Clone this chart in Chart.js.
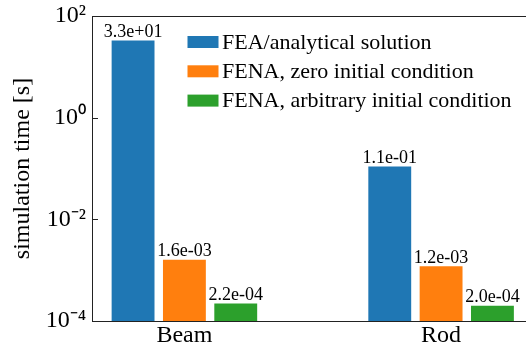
<!DOCTYPE html>
<html>
<head>
<meta charset="utf-8">
<script src="https://cdn.jsdelivr.net/npm/chart.js@4"></script>
<style>
  html, body { margin: 0; padding: 0; background: #fff; overflow: hidden; width: 526px; height: 349px; }
  #wrap { position: absolute; left: 0; top: 0; width: 540px; height: 349px; }
  #c { display: block; width: 540px; height: 349px; }
</style>
</head>
<body>
<div id="wrap"><canvas id="c" width="540" height="349"></canvas></div>
<script>
// Simulation time per model, in seconds
const categories = ['Beam', 'Rod'];
const seriesNames = ['FEA/analytical solution', 'FENA, zero initial condition', 'FENA, arbitrary initial condition'];
const feaTimes = [33, 0.11];
const fenaZeroTimes = [1.6e-3, 1.2e-3];
const fenaArbitraryTimes = [2.2e-4, 2.0e-4];
const yTickValues = [1e-4, 1e-2, 1, 1e2];
const yTickLabels = ['10⁻⁴', '10⁻²', '10⁰', '10²'];

const seriesColors = ['#1f77b4', '#ff7f0e', '#2ca02c'];
const FONT = "'Liberation Serif', 'Times New Roman', serif";
const SPINE = '#222';

// 3.3e+01 style: one decimal, two-digit exponent
function sci(v) {
  const [m, e] = v.toExponential(1).split('e');
  return m + 'e' + e[0] + e.slice(1).padStart(2, '0');
}

const seriesValues = [feaTimes, fenaZeroTimes, fenaArbitraryTimes];
const datasets = seriesValues.map((vals, s) => ({
  label: seriesNames[s],
  data: categories.map((c, i) => ({ x: i, y: vals[i] })),
  backgroundColor: seriesColors[s],
  borderWidth: 0
}));

// Frame, inward ticks, value annotations and the legend
const decorations = {
  id: 'decorations',
  afterDatasetsDraw(chart) {
    const { ctx, chartArea: a } = chart;
    const yScale = chart.scales.y;
    ctx.save();
    ctx.strokeStyle = SPINE;
    ctx.lineWidth = 1;
    ctx.beginPath();
    const top = Math.round(a.top) + 0.5;
    ctx.moveTo(a.left, top); ctx.lineTo(a.right, top);
    yScale.ticks.forEach(t => {
      const py = Math.round(yScale.getPixelForValue(t.value)) + 0.5;
      ctx.moveTo(a.left, py); ctx.lineTo(a.left + 6, py);
    });
    ctx.stroke();

    ctx.fillStyle = '#000';
    ctx.font = `18px ${FONT}`;
    ctx.textAlign = 'center';
    ctx.textBaseline = 'alphabetic';
    chart.data.datasets.forEach((ds, di) => {
      chart.getDatasetMeta(di).data.forEach((bar, i) => {
        ctx.fillText(sci(ds.data[i].y), bar.x, bar.y - 3.5);
      });
    });

    const lx = a.left + 95.5, ly = a.top + 20, pitch = 29.3, pw = 31, ph = 12;
    ctx.font = `22px ${FONT}`;
    ctx.textAlign = 'left';
    chart.data.datasets.forEach((ds, di) => {
      const y0 = ly + di * pitch;
      ctx.fillStyle = ds.backgroundColor;
      ctx.fillRect(lx, y0, pw, ph);
      ctx.fillStyle = '#000';
      ctx.fillText(ds.label, lx + pw + 3.5, y0 + ph + 0.5);
    });
    ctx.restore();
  }
};

new Chart(document.getElementById('c'), {
  type: 'bar',
  data: { datasets },
  options: {
    responsive: false,
    animation: false,
    devicePixelRatio: 1,
    categoryPercentage: 0.6,
    barPercentage: 0.835,
    layout: { padding: { top: 16, right: 6.5, bottom: 0, left: 0 } },
    plugins: { legend: { display: false }, tooltip: { enabled: false } },
    scales: {
      x: {
        type: 'linear',
        offset: false,
        min: -0.36,
        max: 1.36,
        grid: { display: false, drawTicks: false, offset: false },
        border: { display: true, color: SPINE, width: 1 },
        afterBuildTicks: s => { s.ticks = categories.map((c, i) => ({ value: i })); },
        ticks: {
          callback: v => categories[v],
          font: { family: FONT, size: 24 },
          color: '#000',
          padding: 0,
          maxRotation: 0,
          autoSkip: false
        },
        afterFit: s => { s.height = 28; s.paddingLeft = 0; s.paddingRight = 0; }
      },
      y: {
        type: 'logarithmic',
        min: 1e-4,
        max: 1e2,
        grid: { display: false, drawTicks: false },
        border: { display: true, color: SPINE, width: 1 },
        afterBuildTicks: s => { s.ticks = yTickValues.map(v => ({ value: v })); },
        ticks: {
          callback: v => yTickLabels[yTickValues.indexOf(v)],
          font: { family: FONT, size: 24 },
          color: '#000',
          padding: 6,
          autoSkip: false
        },
        title: {
          display: true,
          text: 'simulation time [s]',
          font: { family: FONT, size: 24 },
          color: '#000',
          padding: { top: 8, bottom: 0 }
        },
        afterFit: s => { s.width = 92; s.paddingTop = 0; s.paddingBottom = 0; }
      }
    }
  },
  plugins: [decorations]
});
</script>
</body>
</html>
